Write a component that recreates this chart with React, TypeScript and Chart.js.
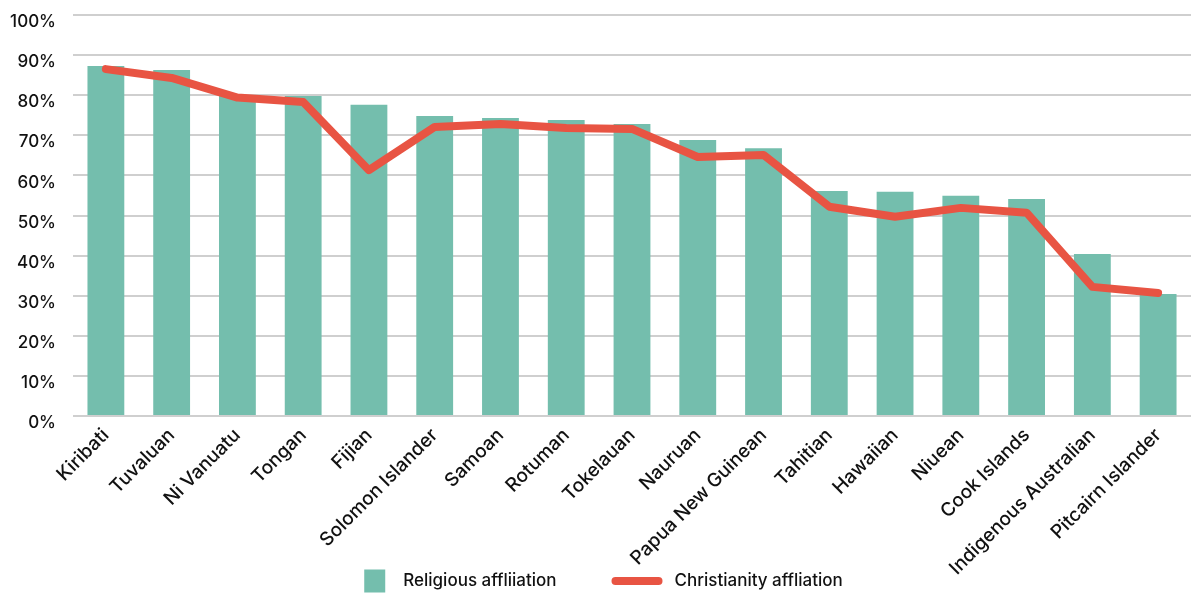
import React, { useEffect, useRef } from "react";
import { Chart, registerables } from "chart.js";

Chart.register(...registerables);

const categories = [
  "Kiribati", "Tuvaluan", "Ni Vanuatu", "Tongan", "Fijian", "Solomon Islander",
  "Samoan", "Rotuman", "Tokelauan", "Nauruan", "Papua New Guinean", "Tahitian",
  "Hawaiian", "Niuean", "Cook Islands", "Indigenous Australian", "Pitcairn Islander",
];
const religiousAffiliation = [
  87.3, 86.3, 79.8, 79.8, 77.6, 74.8, 74.3, 73.8, 72.8, 68.8, 66.8, 56.1, 55.9, 54.9, 54.1, 40.4, 30.4,
];
const christianityAffiliation = [
  86.5, 84.3, 79.4, 78.3, 61.3, 72.1, 72.8, 71.8, 71.6, 64.6, 65.1, 52.2, 49.7, 51.9, 50.7, 32.2, 30.7,
];
const yTicks = [0, 10, 20, 30, 40, 50, 60, 70, 80, 90, 100];
const seriesNames = ["Religious affliiation", "Christianity affliation"];

const BAR_COLOR = "#74BEAD";
const LINE_COLOR = "#E85443";
const TEXT_COLOR = "#111";
const FONT = "Inter, 'Open Sans', sans-serif";

const legendPlugin = {
  id: "bottomLegend",
  afterDraw(chart: any) {
    const ctx = chart.ctx as CanvasRenderingContext2D;
    const fontSize = 17;
    ctx.save();
    ctx.font = `500 ${fontSize}px ${FONT}`;
    const squareW = 21;
    const squareH = 23;
    const gap1 = 18;
    const between = 55;
    const lineW = 51;
    const gap2 = 12;
    const t1 = ctx.measureText(seriesNames[0]).width;
    const t2 = ctx.measureText(seriesNames[1]).width;
    const total = squareW + gap1 + t1 + between + lineW + gap2 + t2;
    let x = chart.width / 2 + 8 - total / 2;
    const cy = 581;
    ctx.fillStyle = BAR_COLOR;
    ctx.fillRect(x, cy - squareH / 2, squareW, squareH);
    x += squareW + gap1;
    ctx.fillStyle = TEXT_COLOR;
    ctx.textBaseline = "middle";
    ctx.textAlign = "left";
    ctx.fillText(seriesNames[0], x, cy);
    x += t1 + between;
    ctx.strokeStyle = LINE_COLOR;
    ctx.lineWidth = 8;
    ctx.lineCap = "round";
    ctx.beginPath();
    ctx.moveTo(x + 4, cy);
    ctx.lineTo(x + lineW - 4, cy);
    ctx.stroke();
    x += lineW + gap2;
    ctx.fillStyle = TEXT_COLOR;
    ctx.fillText(seriesNames[1], x, cy);
    ctx.restore();
  },
};

export default function App() {
  const ref = useRef<HTMLCanvasElement>(null);

  useEffect(() => {
    if (!ref.current) return;
    const chart = new Chart(ref.current, {
      type: "bar",
      data: {
        labels: categories,
        datasets: [
          {
            type: "line",
            label: seriesNames[1],
            data: christianityAffiliation,
            borderColor: LINE_COLOR,
            backgroundColor: LINE_COLOR,
            borderWidth: 8,
            pointRadius: 0,
            tension: 0,
            borderCapStyle: "round",
            borderJoinStyle: "round",
            order: 0,
          } as any,
          {
            type: "bar",
            label: seriesNames[0],
            data: religiousAffiliation,
            backgroundColor: BAR_COLOR,
            barPercentage: 0.56,
            categoryPercentage: 1,
            order: 1,
          },
        ],
      },
      options: {
        animation: false,
        responsive: false,
        maintainAspectRatio: false,
        layout: { padding: { top: 15, left: 0, right: 0, bottom: 0 } },
        plugins: {
          tooltip: { enabled: false },
          legend: { display: false },
        },
        scales: {
          x: {
            offset: true,
            grid: { display: false },
            border: { display: false },
            ticks: {
              minRotation: 45,
              maxRotation: 45,
              color: TEXT_COLOR,
              font: { family: FONT, size: 19, weight: 500 },
              padding: 0,
            },
            afterFit: (scale: any) => {
              scale.height = 178;
              scale.paddingLeft = 0;
              scale.paddingRight = 0;
              scale.paddingTop = 0;
              scale.paddingBottom = 0;
            },
          },
          y: {
            min: 0,
            max: 100,
            afterBuildTicks: (axis: any) => {
              axis.ticks = yTicks.map((v) => ({ value: v }));
            },
            grid: { color: "#CFCFCF", lineWidth: 2, drawTicks: false },
            border: { display: false },
            ticks: {
              color: TEXT_COLOR,
              font: { family: FONT, size: 17, weight: 500 },
              padding: 17,
              labelOffset: 7,
              callback: (v: any) => v + "%",
            },
            afterFit: (scale: any) => {
              scale.width = 73;
              scale.paddingTop = 0;
              scale.paddingBottom = 0;
            },
          },
        },
      },
      plugins: [legendPlugin],
    });
    return () => chart.destroy();
  }, []);

  return (
    <div style={{ position: "absolute", left: 0, top: 0, width: 1191, height: 594, background: "#fff" }}>
      <canvas ref={ref} width={1191} height={594} style={{ width: 1191, height: 594, display: "block" }} />
    </div>
  );
}
